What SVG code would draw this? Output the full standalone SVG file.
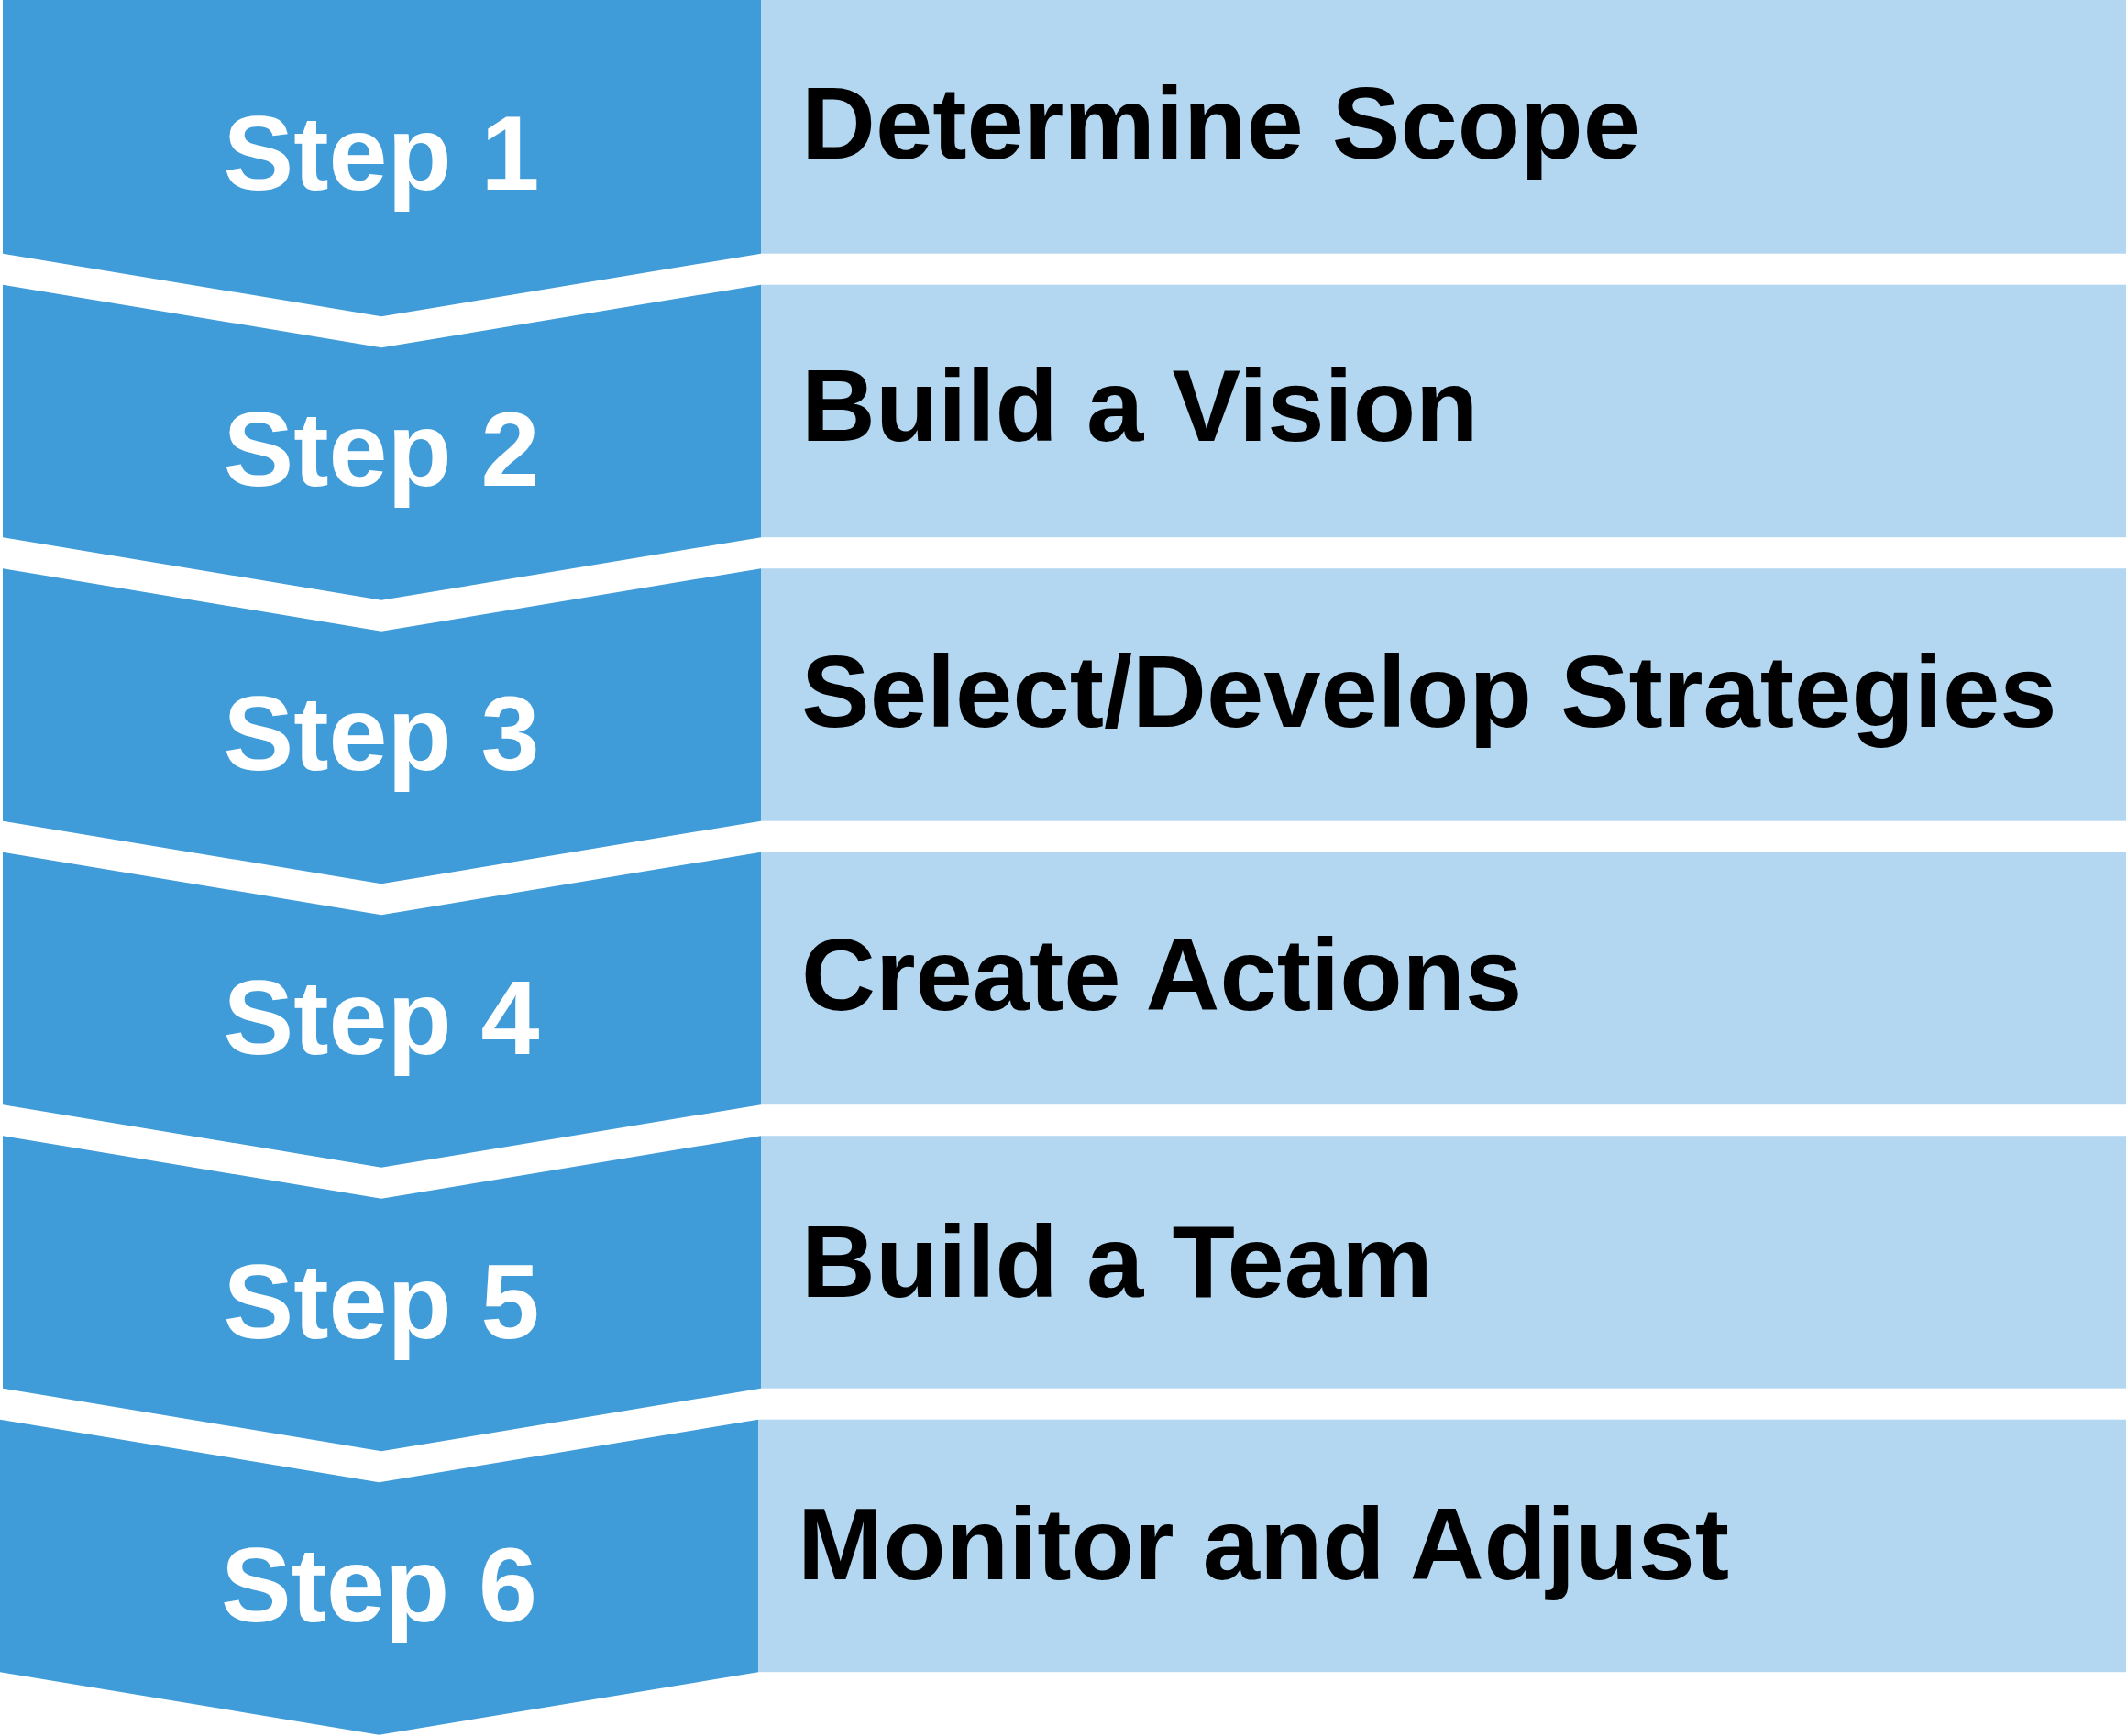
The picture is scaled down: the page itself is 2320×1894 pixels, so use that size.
<svg xmlns="http://www.w3.org/2000/svg" width="2320" height="1894" viewBox="0 0 2320 1894">
<style>
.chev{fill:#409CD9;}
.box{fill:#B3D7F0;}
.step{font-family:"Liberation Sans",Arial,sans-serif;font-weight:bold;font-size:115px;fill:#FFFFFF;text-anchor:middle;}
.lbl{font-family:"Liberation Sans",Arial,sans-serif;font-weight:bold;font-size:112px;fill:#000000;}
</style>
<rect x="0" y="0" width="2320" height="1894" fill="#FFFFFF"/>
<g id="step1">
<polygon class="chev" points="3,0 830,0 830,276.7 416,345.2 3,276.7"/>
<rect class="box" x="830" y="0" width="1489" height="276.7"/>
<text class="step" x="416" y="206.7">Step 1</text>
<text class="lbl" x="874" y="173.3">Determine Scope</text>
</g>
<g id="step2">
<polygon class="chev" points="3,310.7 416,379.2 830,310.7 830,586.2 416,654.7 3,586.2"/>
<rect class="box" x="830" y="310.7" width="1489" height="275.5"/>
<text class="step" x="416" y="530">Step 2</text>
<text class="lbl" x="874" y="480.7">Build a Vision</text>
</g>
<g id="step3">
<polygon class="chev" points="3,620.2 416,688.7 830,620.2 830,895.7 416,964.2 3,895.7"/>
<rect class="box" x="830" y="620.2" width="1489" height="275.5"/>
<text class="step" x="416" y="840">Step 3</text>
<text class="lbl" x="874" y="793.3">Select/Develop Strategies</text>
</g>
<g id="step4">
<polygon class="chev" points="3,929.7 416,998.2 830,929.7 830,1205.2 416,1273.7 3,1205.2"/>
<rect class="box" x="830" y="929.7" width="1489" height="275.5"/>
<text class="step" x="416" y="1150">Step 4</text>
<text class="lbl" x="874" y="1101.7">Create Actions</text>
</g>
<g id="step5">
<polygon class="chev" points="3,1239.2 416,1307.7 830,1239.2 830,1514.7 416,1583.2 3,1514.7"/>
<rect class="box" x="830" y="1239.2" width="1489" height="275.5"/>
<text class="step" x="416" y="1460">Step 5</text>
<text class="lbl" x="874" y="1415">Build a Team</text>
</g>
<g id="step6">
<polygon class="chev" points="0,1548.7 413.5,1617.2 827,1548.7 827,1824.2 413.5,1892.7 0,1824.2"/>
<rect class="box" x="827" y="1548.7" width="1492" height="275.5"/>
<text class="step" x="413.5" y="1768.5">Step 6</text>
<text class="lbl" x="870" y="1723.3">Monitor and Adjust</text>
</g>
<g id="connectors"></g>
</svg>
